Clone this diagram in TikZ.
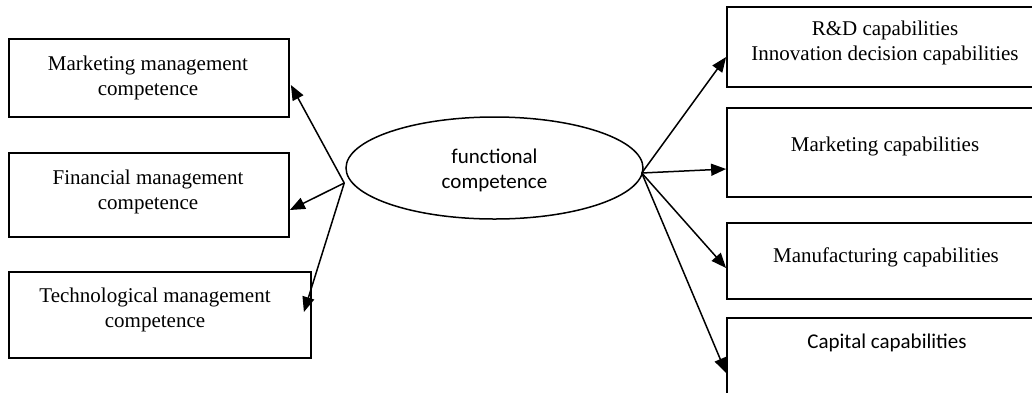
\documentclass[tikz,border=0pt]{standalone}
\usepackage{fontspec}
\setmainfont{Liberation Serif}
\newfontfamily\calibrifont{Carlito}
\usetikzlibrary{arrows.meta,calc,shapes.geometric}

\tikzset{
  compbox/.style={draw, line width=0.9pt, rectangle, inner sep=0pt},
  boxtext/.style={align=center, inner sep=0pt, font=\fontsize{10.5}{12.5}\selectfont},
  sanstext/.style={align=center, inner sep=0pt, font=\calibrifont\fontsize{10.5}{12.5}\selectfont},
  link/.style={line width=0.75pt, -{Triangle[length=7.5pt,width=6pt]}}
}

\begin{document}
\begin{tikzpicture}[x=0.5pt,y=-0.5pt]

\clip (0,0) rectangle (1032,392);

% Left side: management competences
\node[compbox, minimum width=140pt, minimum height=39pt] (mkt) at (149,78) {};
\node[compbox, minimum width=140pt, minimum height=42pt] (fin) at (149,195) {};
\node[compbox, minimum width=151pt, minimum height=43pt] (tech) at (160,315) {};

\node[boxtext] (mkttxt) at ($(mkt.center)+(-1,0)$) {Marketing management\\competence};
\node[boxtext] (fintxt) at ($(fin.center)+(-1,-3)$) {Financial management\\competence};
\node[boxtext] (techtxt) at ($(tech.center)+(-5,-5)$) {Technological management\\competence};

% Centre
\node[draw, ellipse, line width=0.75pt, minimum width=148.5pt, minimum height=51pt, inner sep=0pt] (func) at (494.5,168) {};
\node[sanstext] (functxt) at ($(func.center)+(0,2)$) {functional\\competence};

% Right side: capabilities (cut off by the page edge)
\node[compbox, minimum width=170pt, minimum height=40pt] (rd) at (897,47) {};
\node[compbox, minimum width=170pt, minimum height=44.5pt] (mcap) at (897,152.5) {};
\node[compbox, minimum width=170pt, minimum height=38pt] (mfg) at (897,261) {};
\node[compbox, minimum width=170pt, minimum height=45pt] (cap) at (897,363) {};

\node[boxtext] (rdtxt) at (885,43) {R\&D capabilities\\ Innovation decision capabilities};
\node[boxtext] (mcaptxt) at (885,146.5) {Marketing capabilities};
\node[boxtext] (mfgtxt) at (886,257) {Manufacturing capabilities};
\node[sanstext] (captxt) at (887,343) {Capital capabilities};

% Meeting points on the ellipse
\coordinate (lhub) at ($(func.west)+(-1,15)$);
\coordinate (rhub) at ($(func.east)+(-2,5)$);

% Connectors
\draw[link] (lhub) -- ($(mkt.east)+(1,7)$);
\draw[link] (lhub) -- ($(fin.east)+(0,15)$);
\draw[link] (lhub) -- ($(tech.east)+(-8,-3)$);

\draw[link] (rhub) -- ($(rd.west)+(0,10)$);
\draw[link] (rhub) -- ($(mcap.west)+(0,16.5)$);
\draw[link] (rhub) -- ($(mfg.west)+(0,7)$);
\draw[link] (rhub) -- ($(cap.west)+(0,10)$);

\end{tikzpicture}
\end{document}
